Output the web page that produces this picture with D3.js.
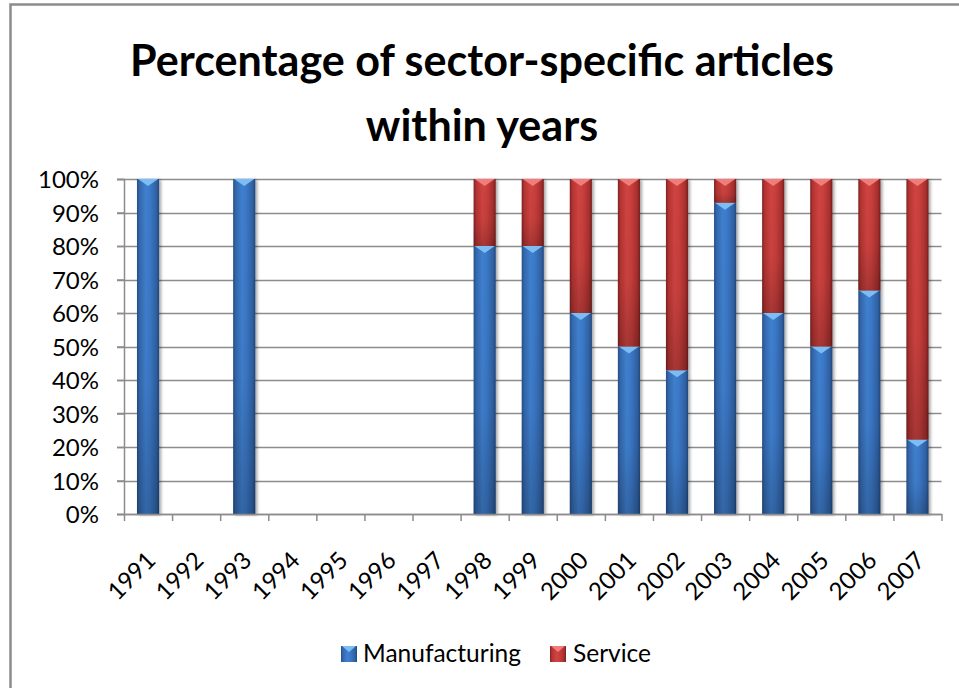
<!DOCTYPE html>
<html>
<head>
<meta charset="utf-8">
<script src="https://cdn.jsdelivr.net/npm/d3@7"></script>
<style>
  body { margin: 0; background: #fff; }
  svg text { font-family: Lato, "Open Sans", sans-serif; fill: #000; }
</style>
</head>
<body>
<div id="chart"></div>
<script>
// chart data
const years = ['1991', '1992', '1993', '1994', '1995', '1996', '1997', '1998', '1999',
    '2000', '2001', '2002', '2003', '2004', '2005', '2006', '2007'];
const manufacturing = [100, 0, 100, 0, 0, 0, 0, 80, 80, 60, 50, 42.9, 92.9, 60, 50, 66.7, 22.2];
const service = [0, 0, 0, 0, 0, 0, 0, 20, 20, 40, 50, 57.1, 7.1, 40, 50, 33.3, 77.8];
const seriesNames = ['Manufacturing', 'Service'];
const yTicks = [0, 10, 20, 30, 40, 50, 60, 70, 80, 90, 100];
const titleLines = ['Percentage of sector-specific articles', 'within years'];

const svgWidth = 959;
const svgHeight = 688;

const plot = { left: 124, right: 941.5, top: 179, bottom: 514 };

const svg = d3.select('#chart')
    .append('svg')
    .attr('width', svgWidth)
    .attr('height', svgHeight);

const defs = svg.append('defs');

// bevel-ish gradients like excel 2007
function barGradient(id, stops) {
    const g = defs.append('linearGradient')
        .attr('id', id)
        .attr('x1', 0).attr('x2', 1).attr('y1', 0).attr('y2', 0);
    stops.forEach(s => g.append('stop').attr('offset', s[0]).attr('stop-color', s[1]));
}
barGradient('gradBlue', [[0, '#264e86'], [0.12, '#3468ad'], [0.4, '#3f80d0'], [0.6, '#3b78c6'], [0.88, '#2f61a3'], [1, '#22477c']]);
barGradient('gradRed', [[0, '#7f2222'], [0.12, '#b53432'], [0.4, '#d04442'], [0.6, '#c93f3d'], [0.88, '#a82f2d'], [1, '#761f1f']]);

const shade = defs.append('linearGradient')
    .attr('id', 'shade')
    .attr('x1', 0).attr('x2', 0).attr('y1', 0).attr('y2', 1);
shade.append('stop').attr('offset', 0).attr('stop-color', '#000').attr('stop-opacity', 0);
shade.append('stop').attr('offset', 0.6).attr('stop-color', '#000').attr('stop-opacity', 0.04);
shade.append('stop').attr('offset', 1).attr('stop-color', '#000').attr('stop-opacity', 0.2);

const shadow = defs.append('filter').attr('id', 'shadow')
    .attr('x', '-30%').attr('y', '-5%').attr('width', '160%').attr('height', '110%');
shadow.append('feDropShadow')
    .attr('dx', 2).attr('dy', 1)
    .attr('stdDeviation', 1.6)
    .attr('flood-color', '#000')
    .attr('flood-opacity', 0.35);

const colors = {
    Manufacturing: { fill: 'url(#gradBlue)', top: '#7cbdf3' },
    Service: { fill: 'url(#gradRed)', top: '#f27c7a' }
};

// outer border
svg.append('rect')
    .attr('x', 10.5).attr('y', 4.5)
    .attr('width', 980).attr('height', 720)
    .attr('fill', 'none')
    .attr('stroke', '#8c8c8c')
    .attr('stroke-width', 2.5);

// title
const title = svg.append('text')
    .attr('text-anchor', 'middle')
    .style('font-weight', 'bold')
    .style('font-size', '40px');
titleLines.forEach((t, i) => {
    title.append('tspan')
        .attr('x', 482)
        .attr('y', 76 + i * 65)
        .text(t);
});
// fit first line to the width seen in the picture
const firstLen = title.select('tspan').node().getComputedTextLength();
title.style('font-size', (40 * 704 / firstLen) + 'px');

// scales
const x = d3.scaleBand()
    .domain(years)
    .range([plot.left, plot.right])
    .paddingInner(0.54)
    .paddingOuter(0.27);

const xEdge = d3.scaleLinear()
    .domain([0, years.length])
    .range([plot.left, plot.right]);

const y = d3.scaleLinear()
    .domain([0, 100])
    .range([plot.bottom, plot.top]);

// gridlines
svg.append('g')
    .selectAll('line')
    .data(yTicks)
    .enter()
    .append('line')
    .attr('x1', plot.left - 7)
    .attr('x2', plot.right)
    .attr('y1', d => Math.round(y(d)) + 0.5)
    .attr('y2', d => Math.round(y(d)) + 0.5)
    .attr('stroke', '#8c8c8c')
    .attr('stroke-width', 1.5);

// y axis
const leftAxis = d3.axisLeft(y)
    .tickValues(yTicks)
    .tickFormat(d => d + '%')
    .tickSize(7)
    .tickPadding(18);

const yAxis = svg.append('g')
    .attr('transform', `translate(${plot.left}, 0)`)
    .call(leftAxis);
yAxis.select('.domain').attr('stroke', '#8c8c8c').attr('stroke-width', 1.5);
yAxis.selectAll('.tick line').attr('stroke', '#8c8c8c').attr('stroke-width', 1.5);
yAxis.selectAll('.tick text')
    .style('font-size', '24px')
    .attr('dy', '0.36em');

// stacked bars
const rows = years.map((yr, i) => ({ year: yr, Manufacturing: manufacturing[i], Service: service[i] }));
const stacked = d3.stack().keys(seriesNames)(rows);

const barsGroup = svg.append('g').attr('filter', 'url(#shadow)');

stacked.forEach(layer => {
    const key = layer.key;
    const segs = layer.filter(d => d[1] - d[0] > 0);
    const g = barsGroup.append('g').attr('class', key);

    g.selectAll('rect.bar')
        .data(segs)
        .enter()
        .append('rect')
        .attr('class', 'bar')
        .attr('x', d => x(d.data.year))
        .attr('y', d => y(d[1]))
        .attr('width', x.bandwidth())
        .attr('height', d => y(d[0]) - y(d[1]))
        .attr('fill', colors[key].fill);

    g.selectAll('rect.shade')
        .data(segs)
        .enter()
        .append('rect')
        .attr('class', 'shade')
        .attr('x', d => x(d.data.year))
        .attr('y', d => y(d[1]))
        .attr('width', x.bandwidth())
        .attr('height', d => y(d[0]) - y(d[1]))
        .attr('fill', 'url(#shade)');

    // light triangle on top of each segment
    g.selectAll('path.cap')
        .data(segs)
        .enter()
        .append('path')
        .attr('class', 'cap')
        .attr('d', d => {
            const x0 = x(d.data.year) + 1;
            const x1 = x(d.data.year) + x.bandwidth() - 1;
            const yt = y(d[1]);
            const h = Math.min(7, y(d[0]) - yt);
            return `M${x0},${yt}L${x1},${yt}L${(x0 + x1) / 2},${yt + h}Z`;
        })
        .attr('fill', colors[key].top);
});

// x axis with ticks at category edges
const bottomAxis = d3.axisBottom(xEdge)
    .tickValues(d3.range(years.length + 1))
    .tickFormat('')
    .tickSize(7)
    .tickSizeOuter(0);

const xAxis = svg.append('g')
    .attr('transform', `translate(0, ${plot.bottom})`)
    .call(bottomAxis);
xAxis.select('.domain').attr('stroke', '#8c8c8c').attr('stroke-width', 1.5);
xAxis.selectAll('.tick line').attr('stroke', '#8c8c8c').attr('stroke-width', 1.5);

// rotated year labels
svg.append('g')
    .selectAll('text')
    .data(years)
    .enter()
    .append('text')
    .attr('text-anchor', 'end')
    .style('font-size', '24px')
    .attr('transform', d => `translate(${x(d) + x.bandwidth() / 2 + 9}, ${plot.bottom + 48}) rotate(-45)`)
    .text(d => d);

// legend
const legend = svg.append('g');
const legendItems = [
    { name: 'Manufacturing', sx: 341, tx: 363 },
    { name: 'Service', sx: 550, tx: 573 }
];
legendItems.forEach(it => {
    legend.append('rect')
        .attr('x', it.sx).attr('y', 646)
        .attr('width', 16).attr('height', 16)
        .attr('fill', colors[it.name].fill);
    legend.append('path')
        .attr('d', `M${it.sx + 1},646L${it.sx + 15},646L${it.sx + 8},652Z`)
        .attr('fill', colors[it.name].top);
    legend.append('text')
        .attr('x', it.tx)
        .attr('y', 662)
        .style('font-size', '24.5px')
        .text(it.name);
});
</script>
</body>
</html>
